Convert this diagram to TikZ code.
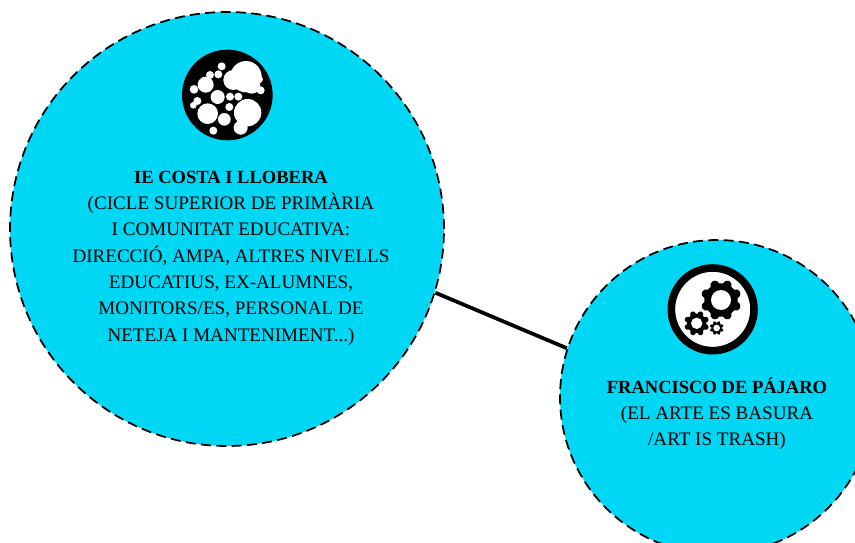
\documentclass[tikz,border=0pt]{standalone}
\usepackage{fontspec}
\setmainfont{Liberation Serif}
\usetikzlibrary{positioning}
\definecolor{discblue}{HTML}{00D7F5}
\tikzset{
	disc/.style = {circle,draw,fill = discblue,line width = 1.3pt,dash pattern = on 7.5pt off 4pt,inner sep = 0pt},
	caption/.style = {align = center,font = \fontsize{14.3pt}{19.75pt}\selectfont,inner sep = 0pt},
}
\newcommand{\titlefont}{\fontsize{13.9pt}{19.75pt}\selectfont\bfseries}
% one gear: centre x, centre y, body radius, tip radius, hole radius, tooth width
\newcommand{\drawgear}[6]{
	\foreach \a in {22.5,67.5,...,337.5} {
		\draw[line width = #6*0.25pt,line cap = round] (#1,#2) -- ++(\a:#4-#6*0.5);
	}
	\fill (#1,#2) circle[radius = #3];
	\fill[white] (#1,#2) circle[radius = #5];
}
\begin{document}
\begin{tikzpicture}[x = 0.25pt,y = -0.25pt]
	\clip (0,0) rectangle (2565,1626);
	\fill[white] (0,0) rectangle (2565,1626);
	\node[disc,minimum size = 325.5pt] at (681,687) (costa) {};
	\node[disc,minimum size = 235.5pt] at (2151,1191) (pajaro) {};
	\draw[line width = 2.8pt] (costa.-17.3) -- (pajaro.162.4);

	% bubbles icon
	\begin{scope}[shift = {(510,120)}]
		\fill (172,165) circle[radius = 136];
		\foreach \x/\y/\r in {228/110/47,190/120/30,245/135/26,155/79/12,145/103/12,120/105/12,107/134/24,72/148/13,272/151/12,268/118/11,143/171/21,180/170/12,205/170/12,178/201/12,82/183/12,70/196/10,113/221/31,163/238/19,233/218/41,212/263/21,130/272/12} {
			\fill[white] (\x,\y) circle[radius = \r];
		}
	\end{scope}

	% gears icon
	\begin{scope}[shift = {(1965,765)}]
		\fill[white] (173,163) circle[radius = 124];
		\draw[line width = 5.7pt] (173,163) circle[radius = 124];
		\drawgear{198}{135}{50}{62}{30}{28}
		\drawgear{125}{205}{29}{38}{17}{17}
		\drawgear{185}{219}{16}{22}{10}{9}
	\end{scope}

	\node[caption] at (693,774) (costatext) {{\titlefont IE COSTA I LLOBERA}\\(CICLE SUPERIOR DE PRIMÀRIA\\I COMUNITAT EDUCATIVA:\\DIRECCIÓ, AMPA, ALTRES NIVELLS\\EDUCATIUS, EX-ALUMNES,\\MONITORS/ES, PERSONAL DE\\NETEJA I MANTENIMENT...)};
	\node[caption] at (2151,1241) (pajarotext) {{\titlefont FRANCISCO DE PÁJARO}\\(EL ARTE ES BASURA\\/ART IS TRASH)};
\end{tikzpicture}
\end{document}
